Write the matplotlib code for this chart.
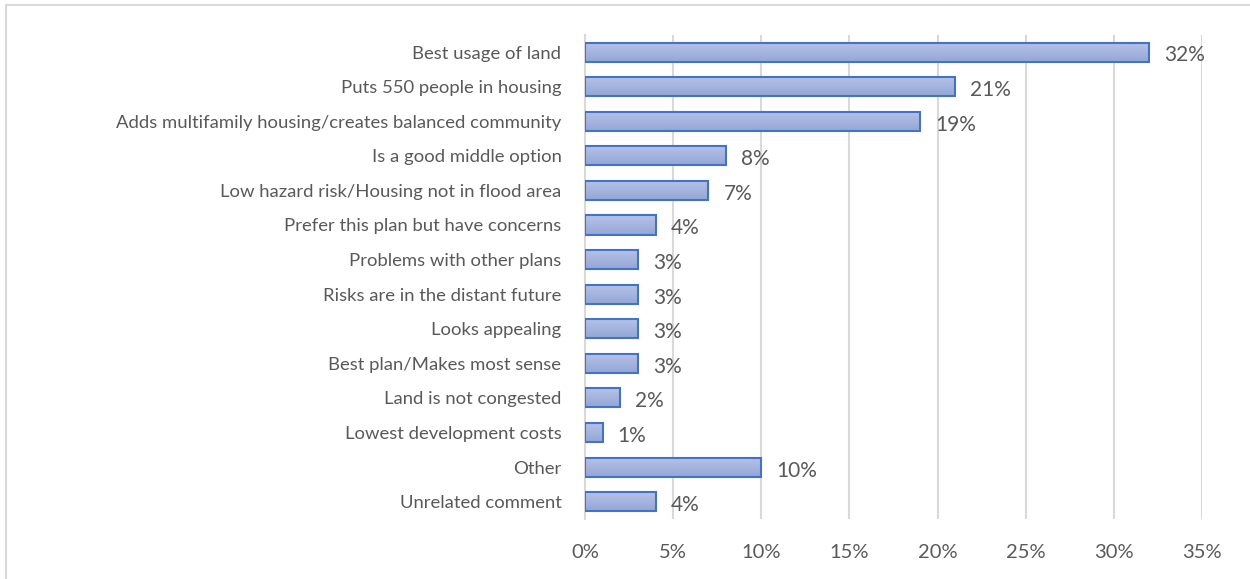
import matplotlib.pyplot as plt
from matplotlib.patches import Rectangle
import numpy as np

categories = [
    "Best usage of land",
    "Puts 550 people in housing",
    "Adds multifamily housing/creates balanced community",
    "Is a good middle option",
    "Low hazard risk/Housing not in flood area",
    "Prefer this plan but have concerns",
    "Problems with other plans",
    "Risks are in the distant future",
    "Looks appealing",
    "Best plan/Makes most sense",
    "Land is not congested",
    "Lowest development costs",
    "Other",
    "Unrelated comment",
]
values = [32, 21, 19, 8, 7, 4, 3, 3, 3, 3, 2, 1, 10, 4]
xticks = [0, 5, 10, 15, 20, 25, 30, 35]

plt.rcParams['font.family'] = ['Lato', 'DejaVu Sans']
text_color = '#595959'

fig = plt.figure(figsize=(12.5, 5.79), dpi=100)
ax = fig.add_axes([0.468, 0.1036, 0.4936, 0.8364])

# outer chart border
fig.patches.append(Rectangle((6 / 1250, -0.1), 1.2, 1 - 5 / 579 + 0.1,
                             transform=fig.transFigure, fill=False,
                             edgecolor='#d9d9d9', linewidth=1.5))

y = np.arange(len(categories))
h = 0.55
# vertical gradient for the bar fill
grad = np.linspace(0, 1, 64).reshape(-1, 1)
cmap = plt.matplotlib.colors.LinearSegmentedColormap.from_list(
    'barfill', ['#b6c3e7', '#a6b5df', '#93a6d6'])
for yi, v in zip(y, values):
    ax.imshow(grad, cmap=cmap, aspect='auto', extent=(0, v, yi + h / 2, yi - h / 2),
              zorder=2, interpolation='bilinear')
    ax.add_patch(Rectangle((0, yi - h / 2), v, h, fill=False,
                           edgecolor='#4472c4', linewidth=1.5, zorder=3))
    ax.text(v + 0.85, yi + 0.1, f"{v}%", va='center', ha='left',
            fontsize=15, color=text_color)

ax.set_xlim(0, 35)
ax.set_ylim(len(categories) - 0.5, -0.5)
ax.set_xticks(xticks)
ax.set_xticklabels([f"{t}%" for t in xticks], fontsize=14.5, color=text_color)
ax.set_yticks(y)
ax.set_yticklabels(categories, fontsize=13.3, color=text_color)
ax.tick_params(length=0)
ax.tick_params(axis='x', pad=18)
ax.tick_params(axis='y', pad=17)
ax.grid(axis='x', color='#d9d9d9', linewidth=1.5, zorder=0)
ax.set_axisbelow(True)
for s in ['top', 'right', 'bottom']:
    ax.spines[s].set_visible(False)
ax.spines['left'].set_color('#d9d9d9')
ax.spines['left'].set_linewidth(1.5)

fig.savefig('out.png', dpi=100)
plt.close(fig)
